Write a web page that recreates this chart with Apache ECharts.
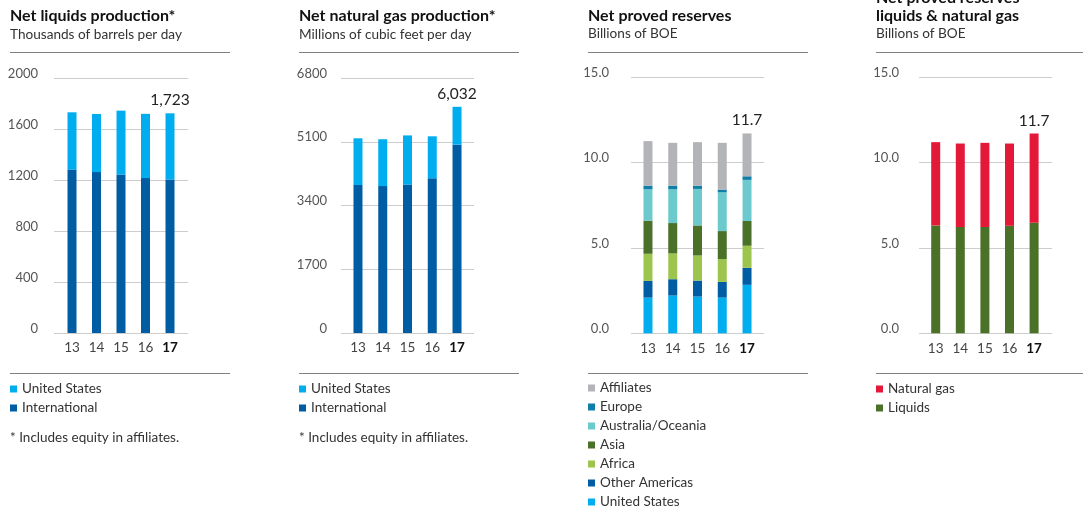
<!DOCTYPE html>
<html>
<head>
<meta charset="utf-8">
<script src="https://cdn.jsdelivr.net/npm/echarts@6/dist/echarts.min.js"></script>
<style>
  html, body { margin: 0; padding: 0; background: #fff; }
  #chart { width: 1083px; height: 512px; }
</style>
</head>
<body>
<div id="chart"></div>
<script>
// data
const years = ['13', '14', '15', '16', '17'];

const liqUS = [449, 456, 501, 504, 519];
const liqIntl = [1282, 1262, 1243, 1215, 1204];
const liqTicks = [0, 400, 800, 1200, 1600, 2000];

const gasUS = [1246, 1250, 1310, 1120, 1011];
const gasIntl = [3946, 3917, 3959, 4125, 5021];
const gasTicks = [0, 1700, 3400, 5100, 6800];

const resUS = [2.09, 2.21, 2.15, 2.09, 2.84];
const resOtherAm = [0.98, 0.96, 0.94, 0.92, 1.00];
const resAfrica = [1.59, 1.51, 1.47, 1.34, 1.29];
const resAsia = [1.94, 1.78, 1.76, 1.64, 1.45];
const resAus = [1.84, 1.98, 2.14, 2.27, 2.41];
const resEurope = [0.21, 0.21, 0.19, 0.16, 0.21];
const resAffiliates = [2.61, 2.51, 2.55, 2.74, 2.51];
const resTicks = [0, 5, 10, 15];

const resLiquids = [6.32, 6.23, 6.23, 6.30, 6.48];
const resGas = [4.88, 4.89, 4.93, 4.82, 5.22];

const FONT = 'Lato';

// panel layout: bg = gridline area, bars = band area for the 5 bars
const panels = [
  { x: 10, bg: [54, 188], bars: [59.75, 182.25], top: 78, bottom: 333, labelMargin: 16,
    ticks: liqTicks, fmt: v => String(v), total: v => v.toLocaleString('en-US'),
    series: [['United States', liqUS, '#00aeef'], ['International', liqIntl, '#005da4']],
    stackOrder: ['International', 'United States'] },
  { x: 299, bg: [341, 474], bars: [345.6, 469.4], top: 78, bottom: 333, labelMargin: 14,
    ticks: gasTicks, fmt: v => String(v), total: v => v.toLocaleString('en-US'),
    series: [['United States', gasUS, '#00aeef'], ['International', gasIntl, '#005da4']],
    stackOrder: ['International', 'United States'] },
  { x: 588, bg: [631, 764], bars: [635.6, 759.4], top: 77.3, bottom: 333.3, labelMargin: 22,
    ticks: resTicks, fmt: v => v.toFixed(1), total: v => v.toFixed(1),
    series: [
      ['Affiliates', resAffiliates, '#b2b4b7'],
      ['Europe', resEurope, '#0f7fa8'],
      ['Australia/Oceania', resAus, '#6dcacc'],
      ['Asia', resAsia, '#4b7129'],
      ['Africa', resAfrica, '#9dc44c'],
      ['Other Americas', resOtherAm, '#005da4'],
      ['United States', resUS, '#00aeef']
    ],
    stackOrder: ['United States', 'Other Americas', 'Africa', 'Asia', 'Australia/Oceania', 'Europe', 'Affiliates'] },
  { x: 876, bg: [919, 1052], bars: [923.4, 1046.4], top: 77.3, bottom: 333.3, labelMargin: 20,
    ticks: resTicks, fmt: v => v.toFixed(1), total: v => v.toFixed(1),
    series: [['Natural gas', resGas, '#e4193a'], ['Liquids', resLiquids, '#4b7129']],
    stackOrder: ['Liquids', 'Natural gas'] }
];

const grid = [], xAxis = [], yAxis = [], series = [], legend = [], graphic = [];

panels.forEach((p, i) => {
  const min = p.ticks[0], max = p.ticks[p.ticks.length - 1], interval = p.ticks[1] - p.ticks[0];
  const bgIdx = grid.length;
  grid.push({ left: p.bg[0], width: p.bg[1] - p.bg[0], top: p.top, height: p.bottom - p.top });
  xAxis.push({ gridIndex: bgIdx, type: 'value', min: 0, max: 1, show: false });
  yAxis.push({
    gridIndex: bgIdx, type: 'value', min: min, max: max, interval: interval,
    axisLine: { show: false }, axisTick: { show: false },
    splitLine: { show: true, lineStyle: { color: '#cdcdcd', width: 1 } },
    axisLabel: {
      margin: p.labelMargin, color: '#555', fontFamily: FONT, fontSize: 13,
      verticalAlign: 'bottom', lineHeight: 9, formatter: p.fmt
    }
  });

  const dIdx = grid.length;
  grid.push({ left: p.bars[0], width: p.bars[1] - p.bars[0], top: p.top, height: p.bottom - p.top });
  xAxis.push({
    gridIndex: dIdx, type: 'category', data: years,
    axisLine: { show: false }, axisTick: { show: false },
    axisLabel: {
      interval: 0, margin: 8, color: '#444', fontFamily: FONT, fontSize: 13.5,
      formatter: (v, k) => k === years.length - 1 ? '{b|' + v + '}' : v,
      rich: { b: { fontFamily: FONT, fontSize: 13.5, fontWeight: 'bold', color: '#111' } }
    }
  });
  yAxis.push({ gridIndex: dIdx, type: 'value', min: min, max: max, show: false });

  const byName = {};
  p.series.forEach(s => { byName[s[0]] = s; });
  const totals = years.map((_, k) => p.series.reduce((a, s) => a + s[1][k], 0));
  p.stackOrder.forEach((name, j) => {
    const s = byName[name];
    const isTop = j === p.stackOrder.length - 1;
    series.push({
      name: name, type: 'bar', stack: 'p' + i, xAxisIndex: dIdx, yAxisIndex: dIdx,
      barWidth: 9, itemStyle: { color: s[2] }, silent: true,
      data: s[1].map((v, k) => (isTop && k === years.length - 1) ? {
        value: v,
        label: {
          show: true, position: 'top', distance: 5, color: '#222', fontFamily: FONT, fontSize: 15.5,
          formatter: () => p.total(totals[k])
        }
      } : v)
    });
  });

  legend.push({
    left: p.x, top: p.series.length > 2 ? 381 : 382, orient: 'vertical', padding: 0,
    icon: 'rect', itemWidth: 7, itemHeight: 7, itemGap: 5, itemTextGap: 7,
    selectedMode: false,
    textStyle: { fontFamily: FONT, fontSize: 13.5, color: '#333', lineHeight: 14 },
    data: p.series.map(s => s[0])
  });

  const lineRight = i === 3 ? 1083 : p.x + 220;
  graphic.push({ type: 'line', shape: { x1: p.x, y1: 52.5, x2: lineRight, y2: 52.5 }, style: { stroke: '#808080', lineWidth: 1 } });
  graphic.push({ type: 'line', shape: { x1: p.x, y1: 373.5, x2: lineRight, y2: 373.5 }, style: { stroke: '#808080', lineWidth: 1 } });
});

const titleStyle = { fontFamily: FONT, fontSize: 16, fontWeight: 'bold', color: '#111', lineHeight: 18 };
const subStyle = { fontFamily: FONT, fontSize: 13.6, fontWeight: 'normal', color: '#333', lineHeight: 16 };
const footStyle = { fontFamily: FONT, fontSize: 13.5, fontWeight: 'normal', color: '#333', lineHeight: 16 };

const title = [
  { text: 'Net liquids production*', left: 10, top: 7, padding: 0, textStyle: titleStyle },
  { text: 'Thousands of barrels per day', left: 10, top: 27, padding: 0, textStyle: subStyle },
  { text: 'Net natural gas production*', left: 299, top: 7, padding: 0, textStyle: titleStyle },
  { text: 'Millions of cubic feet per day', left: 299, top: 27, padding: 0, textStyle: subStyle },
  { text: 'Net proved reserves', left: 588, top: 7, padding: 0, textStyle: titleStyle },
  { text: 'Billions of BOE', left: 588, top: 26, padding: 0, textStyle: subStyle },
  { text: 'Net proved reserves\nliquids & natural gas', left: 876, top: -11, padding: 0, textStyle: titleStyle },
  { text: 'Billions of BOE', left: 876, top: 26, padding: 0, textStyle: subStyle },
  { text: '* Includes equity in affiliates.', left: 10, top: 430, padding: 0, textStyle: footStyle },
  { text: '* Includes equity in affiliates.', left: 299, top: 430, padding: 0, textStyle: footStyle }
];

const myChart = echarts.init(document.getElementById('chart'), null, { renderer: 'canvas' });
myChart.setOption({
  animation: false,
  title: title,
  grid: grid,
  xAxis: xAxis,
  yAxis: yAxis,
  legend: legend,
  graphic: graphic,
  series: series
});
</script>
</body>
</html>
